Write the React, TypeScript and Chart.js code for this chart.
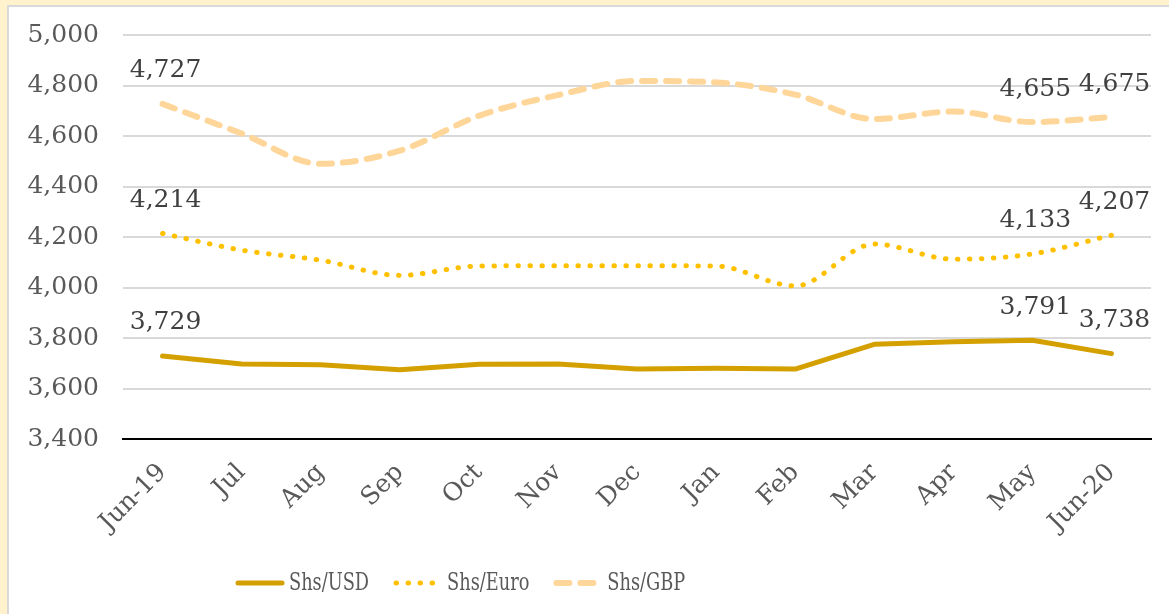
import React, { useEffect, useRef } from "react";
import { Chart, registerables } from "chart.js";

Chart.register(...registerables);

const categories = ["Jun-19", "Jul", "Aug", "Sep", "Oct", "Nov", "Dec", "Jan", "Feb", "Mar", "Apr", "May", "Jun-20"];
const usdValues = [3729, 3697, 3694, 3674, 3696, 3697, 3677, 3680, 3677, 3775, 3785, 3791, 3738];
const euroValues = [4214, 4148, 4108, 4048, 4085, 4086, 4086, 4085, 4006, 4172, 4112, 4133, 4207];
const gbpValues = [4727, 4610, 4490, 4542, 4680, 4762, 4818, 4812, 4764, 4667, 4697, 4655, 4675];
const labelledIndexes = [0, 11, 12];
const yTicks = [3400, 3600, 3800, 4000, 4200, 4400, 4600, 4800, 5000];

const FONT = "'DejaVu Serif', serif";

const labelPlugin = {
  id: "pointLabels",
  afterDatasetsDraw(chart: any) {
    const ctx = chart.ctx;
    ctx.save();
    ctx.font = `25px ${FONT}`;
    ctx.fillStyle = "#404040";
    ctx.textAlign = "center";
    ctx.textBaseline = "middle";
    chart.data.datasets.forEach((ds: any, di: number) => {
      const meta = chart.getDatasetMeta(di);
      labelledIndexes.forEach((i) => {
        const pt = meta.data[i];
        if (!pt) return;
        const v = ds.data[i] as number;
        ctx.fillText(v.toLocaleString("en-US"), pt.x + 3, pt.y - 33);
      });
    });
    ctx.restore();
  },
};

const legendPlugin = {
  id: "customLegend",
  afterDraw(chart: any) {
    const ctx = chart.ctx;
    ctx.save();
    ctx.font = `24px ${FONT}`;
    ctx.textBaseline = "middle";
    ctx.textAlign = "left";
    const sx = 0.74;
    const y = 583;
    let x = 238;
    chart.data.datasets.forEach((ds: any) => {
      ctx.save();
      ctx.strokeStyle = ds.borderColor;
      ctx.lineWidth = ds.borderWidth;
      ctx.lineCap = "round";
      ctx.setLineDash(ds.borderDash || []);
      ctx.beginPath();
      ctx.moveTo(x, y);
      ctx.lineTo(x + 44, y);
      ctx.stroke();
      ctx.restore();
      x += 44 + 7;
      ctx.save();
      ctx.translate(x, y + 1);
      ctx.scale(sx, 1);
      ctx.fillStyle = "#595959";
      ctx.fillText(ds.label, 0, 0);
      ctx.restore();
      x += ctx.measureText(ds.label).width * sx + 27;
    });
    ctx.restore();
  },
};

export default function App() {
  const ref = useRef<HTMLCanvasElement>(null);
  useEffect(() => {
    document.body.style.margin = "0";
    const chart = new Chart(ref.current!, {
      type: "line",
      data: {
        labels: categories,
        datasets: [
          {
            label: "Shs/USD",
            data: usdValues,
            borderColor: "#D4A000",
            backgroundColor: "#D4A000",
            borderWidth: 5,
            borderCapStyle: "round",
            borderJoinStyle: "round",
            pointRadius: 0,
            tension: 0,
          },
          {
            label: "Shs/Euro",
            data: euroValues,
            borderColor: "#FFC000",
            backgroundColor: "#FFC000",
            borderWidth: 5,
            borderDash: [0.5, 11.5],
            borderCapStyle: "round",
            pointRadius: 0,
            cubicInterpolationMode: "monotone",
          },
          {
            label: "Shs/GBP",
            data: gbpValues,
            borderColor: "#FFD699",
            backgroundColor: "#FFD699",
            borderWidth: 6,
            borderDash: [13, 11],
            borderCapStyle: "round",
            pointRadius: 0,
            cubicInterpolationMode: "monotone",
          },
        ],
      },
      options: {
        animation: false,
        responsive: false,
        devicePixelRatio: 1,
        layout: { padding: { left: 26, right: 18, top: 35, bottom: 51 } },
        plugins: {
          legend: { display: false },
          tooltip: { enabled: false },
        },
        scales: {
          x: {
            offset: true,
            grid: { display: false, drawTicks: false },
            border: { display: true, color: "#000000", width: 2 },
            ticks: {
              color: "#595959",
              font: { family: FONT, size: 25 },
              minRotation: 45,
              maxRotation: 45,
              padding: 19,
            },
            afterFit: (axis: any) => {
              axis.height = 124;
              axis.paddingLeft = 0;
              axis.paddingRight = 0;
            },
          },
          y: {
            min: 3400,
            max: 5000,
            afterBuildTicks: (axis: any) => {
              axis.ticks = yTicks.map((v) => ({ value: v }));
            },
            afterFit: (axis: any) => {
              axis.width = 97;
              axis.paddingTop = 0;
              axis.paddingBottom = 0;
            },
            grid: { color: "#D9D9D9", lineWidth: 2, drawTicks: false },
            border: { display: false },
            ticks: {
              color: "#595959",
              font: { family: FONT, size: 25 },
              padding: 24,
              callback: (v: any) => Number(v).toLocaleString("en-US"),
            },
          },
        },
      },
      plugins: [labelPlugin, legendPlugin],
    } as any);
    return () => chart.destroy();
  }, []);
  return (
    <div style={{ position: "fixed", left: 0, top: 0, width: 1169, height: 614, background: "#FFF2CC", overflow: "hidden" }}>
      <div style={{ position: "absolute", left: 7, top: 5, width: 1200, height: 650, border: "2px solid #D9D9D9", background: "#FFFFFF" }} />
      <canvas ref={ref} width={1169} height={614} style={{ position: "absolute", left: 0, top: 0, width: 1169, height: 614 }} />
    </div>
  );
}
